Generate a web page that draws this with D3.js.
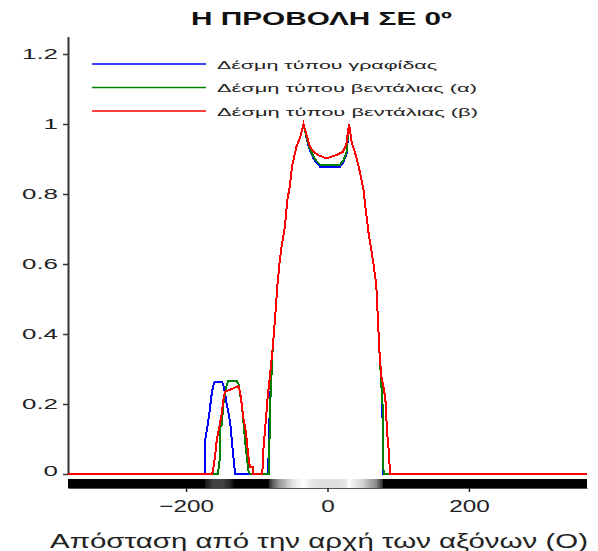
<!DOCTYPE html>
<html>
<head>
<meta charset="utf-8">
<script src="https://cdn.jsdelivr.net/npm/d3@7"></script>
<style>
  html, body { margin: 0; padding: 0; background: #fff; }
  svg { display: block; font-family: "Liberation Sans", Arial, sans-serif; }
</style>
</head>
<body>
<svg id="chart" width="598" height="551"></svg>
<script>
// ---------------- DATA ----------------
const titleText = "Η ΠΡΟΒΟΛΗ ΣΕ 0º";
const xAxisTitle = "Απόσταση από την αρχή των αξόνων (Ο)";
const seriesNames = ["Δέσμη τύπου γραφίδας", "Δέσμη τύπου βεντάλιας (α)", "Δέσμη τύπου βεντάλιας (β)"];
const xTicks = [-200, 0, 200];
const yTicks = [0, 0.2, 0.4, 0.6, 0.8, 1, 1.2];
const yTickLabels = ["0", "0.2", "0.4", "0.6", "0.8", "1", "1.2"];

// Δέσμη τύπου γραφίδας (blue): [distance, intensity]
const penBeam = [
  [-367, 0], [-173.5, 0], [-173, 0.097], [-168.4, 0.154], [-166, 0.192], [-163.7, 0.23],
  [-161.4, 0.254], [-159, 0.264], [-149.5, 0.264], [-147.3, 0.254], [-144.9, 0.23],
  [-142.5, 0.2], [-137.8, 0.15], [-135.4, 0.097], [-133.1, 0.05], [-130.7, 0],
  [-84, 0], [-81.5, 0.2], [-77.5, 0.36], [-74, 0.45], [-71, 0.535], [-68, 0.6], [-65, 0.65],
  [-60, 0.71], [-57, 0.78], [-53.5, 0.82], [-50, 0.88], [-44, 0.935], [-39, 0.96], [-34, 1.0],
  [-29, 0.954], [-25, 0.926], [-20, 0.902], [-15, 0.888], [-10.5, 0.878], [0, 0.876],
  [10, 0.876], [17.7, 0.878], [22, 0.888], [27, 0.915], [30.5, 1.0],
  [34, 0.95], [40, 0.91], [45, 0.87], [50.6, 0.816], [55, 0.74], [58, 0.69], [62, 0.64],
  [65, 0.6], [69, 0.54], [71, 0.454], [73.2, 0.36], [76, 0.26], [77.5, 0.2], [79, 0], [367, 0]
];
// Δέσμη τύπου βεντάλιας (α) (green)
const fanBeamA = [
  [-367, 0], [-155, 0], [-154.3, 0.01], [-152, 0.05], [-151.9, 0.135], [-149.5, 0.14],
  [-147.3, 0.2], [-144.9, 0.23], [-142.5, 0.254], [-140.2, 0.266], [-128.4, 0.266],
  [-126, 0.258], [-123.7, 0.23], [-121.3, 0.2], [-119, 0.15], [-116.6, 0.097],
  [-114.2, 0.05], [-111.9, 0.01], [-109.5, 0],
  [-83, 0], [-81, 0.2], [-77.5, 0.36], [-74, 0.45], [-71, 0.535], [-68, 0.6], [-65, 0.65],
  [-60, 0.71], [-57, 0.78], [-53.5, 0.82], [-50, 0.88], [-44, 0.935], [-39, 0.96], [-34, 1.0],
  [-29, 0.956], [-25, 0.93], [-20, 0.907], [-15, 0.893], [-10.5, 0.884], [0, 0.882],
  [10, 0.882], [17.7, 0.884], [22, 0.894], [27, 0.92], [30.5, 1.0],
  [34, 0.95], [40, 0.91], [45, 0.87], [50.6, 0.816], [55, 0.74], [58, 0.69], [62, 0.64],
  [65, 0.6], [69, 0.54], [71, 0.454], [73.2, 0.36], [76, 0.26], [77.8, 0.2], [79.3, 0], [367, 0]
];
// Δέσμη τύπου βεντάλιας (β) (red)
const fanBeamB = [
  [-367, 0], [-163, 0], [-161.4, 0.016], [-159, 0.05], [-156.6, 0.097], [-152.9, 0.135],
  [-149.5, 0.173], [-147.3, 0.211], [-144.9, 0.235], [-126, 0.251], [-123.7, 0.235],
  [-121.3, 0.2], [-119, 0.16], [-116.6, 0.135], [-114.2, 0.097], [-111.9, 0.05],
  [-109.5, 0.02], [-106, 0.02], [-105.5, 0],
  [-92, 0], [-91.6, 0.05], [-88.3, 0.126], [-85, 0.21], [-80.5, 0.3], [-77.5, 0.36],
  [-74, 0.45], [-71, 0.535], [-68, 0.6], [-65, 0.65], [-60, 0.71], [-57, 0.78],
  [-53.5, 0.82], [-50, 0.88], [-44, 0.935], [-39, 0.96], [-34, 1.0],
  [-29, 0.964], [-24.7, 0.935], [-20, 0.921], [-13, 0.911], [-1.7, 0.902], [12, 0.911],
  [22, 0.921], [26.5, 0.94], [30.5, 1.0],
  [34, 0.95], [40, 0.91], [45, 0.87], [50.6, 0.816], [55, 0.74], [58, 0.69], [62, 0.64],
  [65, 0.6], [69, 0.54], [71, 0.454], [73.2, 0.36], [76, 0.28], [80, 0.24], [82.5, 0.2],
  [84, 0.126], [87.3, 0.05], [88.3, 0], [367, 0]
];
const seriesData = [penBeam, fanBeamA, fanBeamB];
const seriesColors = ["#0000ff", "#008000", "#ff0000"];

// ---------------- DRAW ----------------
const svg = d3.select("#chart");
const x = d3.scaleLinear().domain([-367, 367]).range([68, 587]);
const y = d3.scaleLinear().domain([0, 1.25]).range([474, 36.5]);

function stretchTo(sel, width) {
  sel.attr("textLength", width).attr("lengthAdjust", "spacingAndGlyphs");
}

// title
svg.append("text")
  .attr("x", 191).attr("y", 25)
  .attr("font-size", 19).attr("font-weight", "bold").attr("fill", "#111")
  .text(titleText)
  .call(stretchTo, 261);

// grayscale intensity strip (from pen-beam series)
const defs = svg.append("defs");
const grad = defs.append("linearGradient").attr("id", "strip")
  .attr("gradientUnits", "userSpaceOnUse")
  .attr("x1", x(-367)).attr("x2", x(367)).attr("y1", 0).attr("y2", 0);
const maxV = d3.max(penBeam, d => d[1]);
penBeam.forEach(d => {
  const g = Math.round(255 * d[1] / maxV);
  grad.append("stop")
    .attr("offset", (x(d[0]) - x(-367)) / (x(367) - x(-367)))
    .attr("stop-color", d3.rgb(g, g, g));
});
svg.append("rect")
  .attr("x", x(-367)).attr("y", 479)
  .attr("width", x(367) - x(-367)).attr("height", 9)
  .attr("fill", "url(#strip)");

// x axis
const xAxis = d3.axisBottom(x).tickValues(xTicks).tickSize(4).tickSizeOuter(0).tickPadding(8);
const gx = svg.append("g").attr("transform", "translate(0,488)").call(xAxis);
gx.select(".domain").attr("stroke", "#555").attr("stroke-width", 1);
gx.selectAll(".tick line").attr("stroke", "#222").attr("stroke-width", 1.5);
gx.selectAll(".tick text")
  .attr("font-size", 17).attr("fill", "#222").attr("font-family", "Liberation Sans, Arial, sans-serif")
  .attr("dy", "0.71em")
  .each(function(d) {
    const w = this.getComputedTextLength();
    d3.select(this).call(stretchTo, w * 1.43);
  });

// y axis
const yAxis = d3.axisLeft(y).tickValues(yTicks).tickSize(5).tickSizeOuter(0).tickPadding(5)
  .tickFormat((d, i) => yTickLabels[i]);
const gy = svg.append("g").attr("transform", "translate(68,0)").call(yAxis);
gy.select(".domain").attr("stroke", "#333").attr("stroke-width", 2);
gy.selectAll(".tick line").attr("stroke", "#333").attr("stroke-width", 1.5);
gy.selectAll(".tick text")
  .attr("font-size", 14).attr("fill", "#222").attr("font-family", "Liberation Sans, Arial, sans-serif")
  .each(function(d) {
    const w = this.getComputedTextLength();
    d3.select(this).call(stretchTo, w * 1.85);
  });
gy.selectAll(".tick").filter(d => d === 0).select("text").attr("dy", "0.1em");

// lines
const line = d3.line().x(d => x(d[0])).y(d => y(d[1]));
svg.append("g").selectAll("path").data(seriesData).join("path")
  .attr("d", line)
  .attr("fill", "none")
  .attr("stroke", (d, i) => seriesColors[i])
  .attr("stroke-width", 2)
  .attr("shape-rendering", "crispEdges")
  .attr("stroke-linejoin", "miter");

// legend
const legendY = [64, 87.5, 111];
const legendW = [220, 260, 261];
const lg = svg.append("g");
seriesNames.forEach((name, i) => {
  lg.append("line")
    .attr("x1", 92).attr("x2", 206).attr("y1", legendY[i]).attr("y2", legendY[i])
    .attr("stroke", seriesColors[i]).attr("stroke-width", 1.5);
  lg.append("text")
    .attr("x", 217).attr("y", legendY[i] + 4.5)
    .attr("font-size", 11).attr("fill", "#222")
    .text(name)
    .call(stretchTo, legendW[i]);
});

// x axis title
svg.append("text")
  .attr("x", 50).attr("y", 548)
  .attr("font-size", 20).attr("fill", "#222")
  .text(xAxisTitle)
  .call(stretchTo, 538);
</script>
</body>
</html>
